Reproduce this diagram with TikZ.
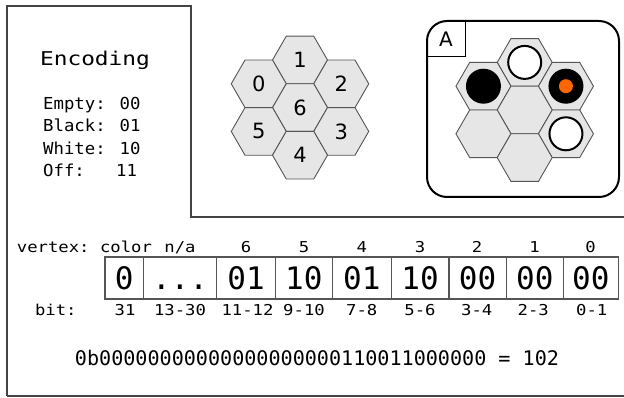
\documentclass[tikz,border=0pt]{standalone}
\usepackage{fontspec}
\setmainfont{DejaVu Sans}
\newfontfamily\mono{DejaVu Sans Mono}
\newfontfamily\monolab[FakeStretch=1.15]{DejaVu Sans Mono}
\newfontfamily\monotitle[FakeStretch=1.2]{DejaVu Sans Mono}
\newfontfamily\monoenc[FakeStretch=1.05]{DejaVu Sans Mono}
\usetikzlibrary{shapes.geometric}
\definecolor{hexfill}{HTML}{E6E6E6}
\definecolor{hexline}{HTML}{555555}
\definecolor{frameline}{HTML}{444444}
\definecolor{boxline}{HTML}{555555}
\definecolor{dotorange}{HTML}{FF6600}
\tikzset{
  hexcell/.style={regular polygon, regular polygon sides=6, minimum size=55pt,
    inner sep=0pt, draw=hexline, fill=hexfill, line width=0.9pt,
    font=\fontsize{21}{21}\selectfont},
  bitbox/.style={draw=boxline, line width=1.2pt, minimum height=42pt,
    inner sep=0pt, text height=22.6pt, text depth=0pt,
    font=\mono\fontsize{31}{31}\selectfont},
  lab/.style={font=\monolab\fontsize{15}{15}\selectfont, inner sep=0pt, anchor=base},
  enc/.style={font=\monoenc\fontsize{16.5}{16.5}\selectfont, inner sep=0pt, anchor=base west},
  blackstone/.style={circle, fill=black, minimum size=35pt, inner sep=0pt},
  whitestone/.style={circle, fill=white, draw=black, line width=2pt, minimum size=33pt, inner sep=0pt},
}
\begin{document}
\begin{tikzpicture}[x=1pt,y=-1pt]
\useasboundingbox (0,0) rectangle (624,398);
% frame
\draw[frameline, line width=1.5pt] (7,396) -- (7,6) -- (191,6) -- (191,217) -- (625,217);
\draw[frameline, line width=1.5pt] (7,396) -- (625,396);
% encoding legend
\node[font=\monotitle\fontsize{19}{19}\selectfont, inner sep=0pt, anchor=base] (enctitle) at (95,66) {Encoding};
\node[enc] (e1) at (43,109.3) {Empty: 00};
\node[enc] (e2) at (43,131.8) {Black: 01};
\node[enc] (e3) at (43,154.3) {White: 10};
\node[enc] (e4) at (43,176.8) {Off:\ \ \ 11};
% index hexes
\node[hexcell] (h1) at (300,60) {1};
\node[hexcell] (h0) at (258.75,83.8) {0};
\node[hexcell] (h2) at (341.25,83.8) {2};
\node[hexcell] (h6) at (300,107.6) {6};
\node[hexcell] (h5) at (258.75,131.4) {5};
\node[hexcell] (h3) at (341.25,131.4) {3};
\node[hexcell] (h4) at (300,155.2) {4};
% board A
\draw[black, line width=2pt, rounded corners=20pt] (427,21) rectangle (619,197);
\draw[black, line width=1pt] (465,21) -- (465,57) -- (427,57);
\node[font=\fontsize{20}{20}\selectfont, inner sep=0pt] (alabel) at (446,39.5) {A};
\node[hexcell] (b1) at (524.7,62.4) {};
\node[hexcell] (b0) at (483.45,86.2) {};
\node[hexcell] (b2) at (565.95,86.2) {};
\node[hexcell] (b6) at (524.7,110) {};
\node[hexcell] (b5) at (483.45,133.8) {};
\node[hexcell] (b3) at (565.95,133.8) {};
\node[hexcell] (b4) at (524.7,157.6) {};
\node[whitestone] (s1) at (b1) {};
\node[blackstone] (s0) at (b0) {};
\node[blackstone] (s2) at (b2) {};
\node[circle, fill=dotorange, minimum size=14pt, inner sep=0pt] (s2dot) at (b2) {};
\node[whitestone] (s3) at (b3) {};
% bit boxes
\node[bitbox, minimum width=38.3pt] (c0) at (124.15,278) {0};
\node[bitbox, minimum width=73.4pt] (c1) at (180,278) {...};
\node[bitbox, minimum width=58.6pt] (c2) at (246,278) {01};
\node[bitbox, minimum width=57pt] (c3) at (303.8,278) {10};
\node[bitbox, minimum width=59pt] (c4) at (361.8,278) {01};
\node[bitbox, minimum width=57.7pt] (c5) at (420.15,278) {10};
\node[bitbox, minimum width=57.3pt] (c6) at (477.65,278) {00};
\node[bitbox, minimum width=57pt] (c7) at (534.8,278) {00};
\node[bitbox, minimum width=55pt] (c8) at (590.8,278) {00};
% vertex labels
\node[lab, anchor=base west] (vlab) at (16.7,252.7) {vertex:};
\node[lab] (v0) at (126,252.7) {color};
\node[lab] (v1) at (180,252.7) {n/a};
\node[lab] (v2) at (246,252.7) {6};
\node[lab] (v3) at (304,252.7) {5};
\node[lab] (v4) at (361.8,252.7) {4};
\node[lab] (v5) at (420,252.7) {3};
\node[lab] (v6) at (477,252.7) {2};
\node[lab] (v7) at (534.5,252.7) {1};
\node[lab] (v8) at (590.5,252.7) {0};
% bit labels
\node[lab] (blab) at (55.8,315) {bit:};
\node[lab] (t0) at (125,315) {31};
\node[lab] (t1) at (180,315) {13-30};
\node[lab] (t2) at (247.5,315) {11-12};
\node[lab] (t3) at (304,315) {9-10};
\node[lab] (t4) at (361.7,315) {7-8};
\node[lab] (t5) at (420,315) {5-6};
\node[lab] (t6) at (476.7,315) {3-4};
\node[lab] (t7) at (533.3,315) {2-3};
\node[lab] (t8) at (591.7,315) {0-1};
% binary value
\node[font=\mono\fontsize{20.1}{20.1}\selectfont, inner sep=0pt, anchor=base] (binval) at (317,365) {0b00000000000000000000110011000000 = 102};
\end{tikzpicture}
\end{document}
